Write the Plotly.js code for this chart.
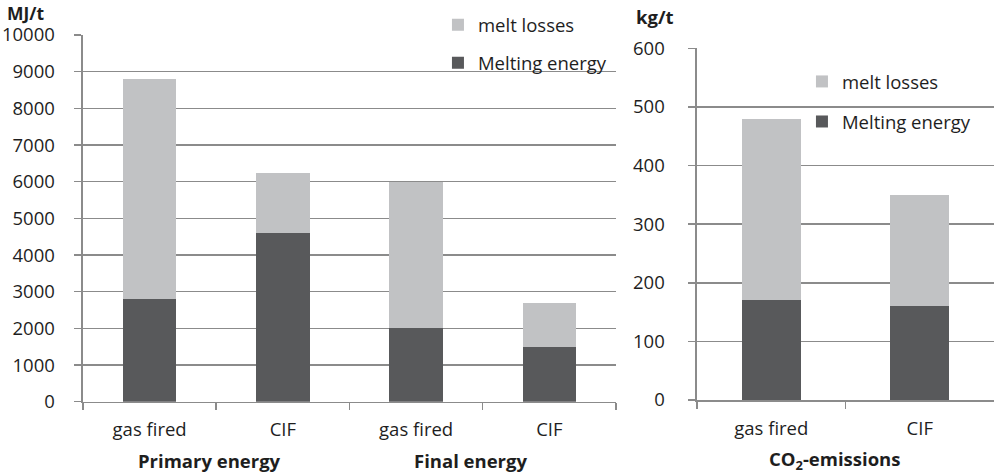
<!DOCTYPE html>
<html>
<head>
<meta charset="utf-8">
<script src="https://cdn.plot.ly/plotly-3.0.1.min.js"></script>
<style>html,body{margin:0;padding:0;background:#fff;}#chart{width:994px;height:473px;}</style>
</head>
<body>
<div id="chart"></div>
<script>
// ---- data ----
const groups = ["Primary energy", "Final energy"];
const categories = ["gas fired", "CIF", "gas fired", "CIF"];
const meltingEnergyMJ = [2800, 4600, 2000, 1500];
const meltLossesMJ = [6000, 1650, 4000, 1200];

const co2Categories = ["gas fired", "CIF"];
const meltingEnergyCO2 = [170, 160];
const meltLossesCO2 = [310, 190];

const seriesNames = ["Melting energy", "melt losses"];
const leftUnit = "MJ/t";
const rightUnit = "kg/t";
const rightGroup = "CO<sub>2</sub>-emissions";

// ---- styles ----
const darkGrey = "#58595b";
const lightGrey = "#c1c2c4";
const gridGrey = "#8b8b8b";
const textColor = "#1e1e1e";
const FONT = "Open Sans, Liberation Sans, sans-serif";
const FS = 18.5;

const keys = categories.map((c, i) => groups[Math.floor(i / 2)] + " | " + c);

const traces = [
  { type: "bar", x: keys, y: meltingEnergyMJ, name: seriesNames[0], marker: { color: darkGrey },
    xaxis: "x", yaxis: "y", legend: "legend", legendgroup: "a", legendrank: 2 },
  { type: "bar", x: keys, y: meltLossesMJ, name: seriesNames[1], marker: { color: lightGrey },
    xaxis: "x", yaxis: "y", legend: "legend", legendgroup: "b", legendrank: 1 },
  { type: "bar", x: co2Categories, y: meltingEnergyCO2, name: seriesNames[0], marker: { color: darkGrey },
    xaxis: "x2", yaxis: "y2", legend: "legend2", legendgroup: "c", legendrank: 2 },
  { type: "bar", x: co2Categories, y: meltLossesCO2, name: seriesNames[1], marker: { color: lightGrey },
    xaxis: "x2", yaxis: "y2", legend: "legend2", legendgroup: "d", legendrank: 1 }
];

const yCommon = {
  showline: true, linecolor: gridGrey, linewidth: 1.5,
  showgrid: true, gridcolor: gridGrey, gridwidth: 1.5,
  zeroline: false, ticks: "outside", ticklen: 7, tickcolor: gridGrey, tickwidth: 1.5,
  tickformat: "d",
  tickfont: { family: FONT, size: FS, color: textColor }, fixedrange: true
};
const xCommon = {
  type: "category", showline: true, linecolor: gridGrey, linewidth: 1.5,
  showgrid: false, zeroline: false, ticks: "outside", ticklen: 7, tickcolor: gridGrey, tickwidth: 1.5,
  tickson: "boundaries", ticklabelstandoff: 11,
  tickfont: { family: FONT, size: FS, color: textColor }, fixedrange: true
};

const layout = {
  width: 994, height: 473,
  margin: { l: 0, r: 0, t: 0, b: 0 },
  paper_bgcolor: "#ffffff", plot_bgcolor: "#ffffff",
  barmode: "stack", bargap: 0.6,
  font: { family: FONT, size: FS, color: textColor },
  xaxis: Object.assign({}, xCommon, { domain: [0.0835, 0.6197], anchor: "y",
    tickmode: "array", tickvals: keys, ticktext: categories }),
  yaxis: Object.assign({}, yCommon, { domain: [0.1507, 0.926], anchor: "x",
    range: [0, 10000], dtick: 1000, ticklabelstandoff: 16 }),
  xaxis2: Object.assign({}, xCommon, { domain: [0.7012, 1.0], anchor: "y2" }),
  yaxis2: Object.assign({}, yCommon, { domain: [0.1543, 0.8979], anchor: "x2",
    range: [0, 600], dtick: 100, ticklabelstandoff: 20 }),
  legend: { x: 0.4406, xanchor: "left", y: 0.987, yanchor: "top", bgcolor: "rgba(0,0,0,0)",
    traceorder: "grouped", tracegroupgap: 11, itemwidth: 30,
    font: { family: FONT, size: FS, color: textColor } },
  legend2: { x: 0.8068, xanchor: "left", y: 0.867, yanchor: "top", bgcolor: "rgba(0,0,0,0)",
    traceorder: "grouped", tracegroupgap: 13, itemwidth: 30,
    font: { family: FONT, size: FS, color: textColor } },
  annotations: [
    { text: "<b>" + leftUnit + "</b>", xref: "paper", yref: "paper", x: 6 / 994, y: 1,
      xanchor: "left", yanchor: "top", showarrow: false, borderpad: 0,
      font: { family: FONT, size: 17.5, color: textColor } },
    { text: "<b>" + rightUnit + "</b>", xref: "paper", yref: "paper", x: 634 / 994, y: 1 - 16 / 473,
      xanchor: "left", yanchor: "middle", showarrow: false, font: { family: FONT, size: FS, color: textColor } },
    { text: "<b>" + groups[0] + "</b>", xref: "x", yref: "paper", x: 0.5, xshift: -7, y: 1 - 460 / 473,
      xanchor: "center", yanchor: "middle", showarrow: false, font: { family: FONT, size: FS, color: textColor } },
    { text: "<b>" + groups[1] + "</b>", xref: "x", yref: "paper", x: 2.5, xshift: -12, y: 1 - 460 / 473,
      xanchor: "center", yanchor: "middle", showarrow: false, font: { family: FONT, size: FS, color: textColor } },
    { text: "<b>" + rightGroup + "</b>", xref: "x2", yref: "paper", x: 0.5, xshift: -11, y: 1 - 460 / 473,
      xanchor: "center", yanchor: "middle", showarrow: false, font: { family: FONT, size: FS, color: textColor } }
  ],
  hovermode: false
};

Plotly.newPlot("chart", traces, layout, { staticPlot: true, displayModeBar: false });
</script>
</body>
</html>
